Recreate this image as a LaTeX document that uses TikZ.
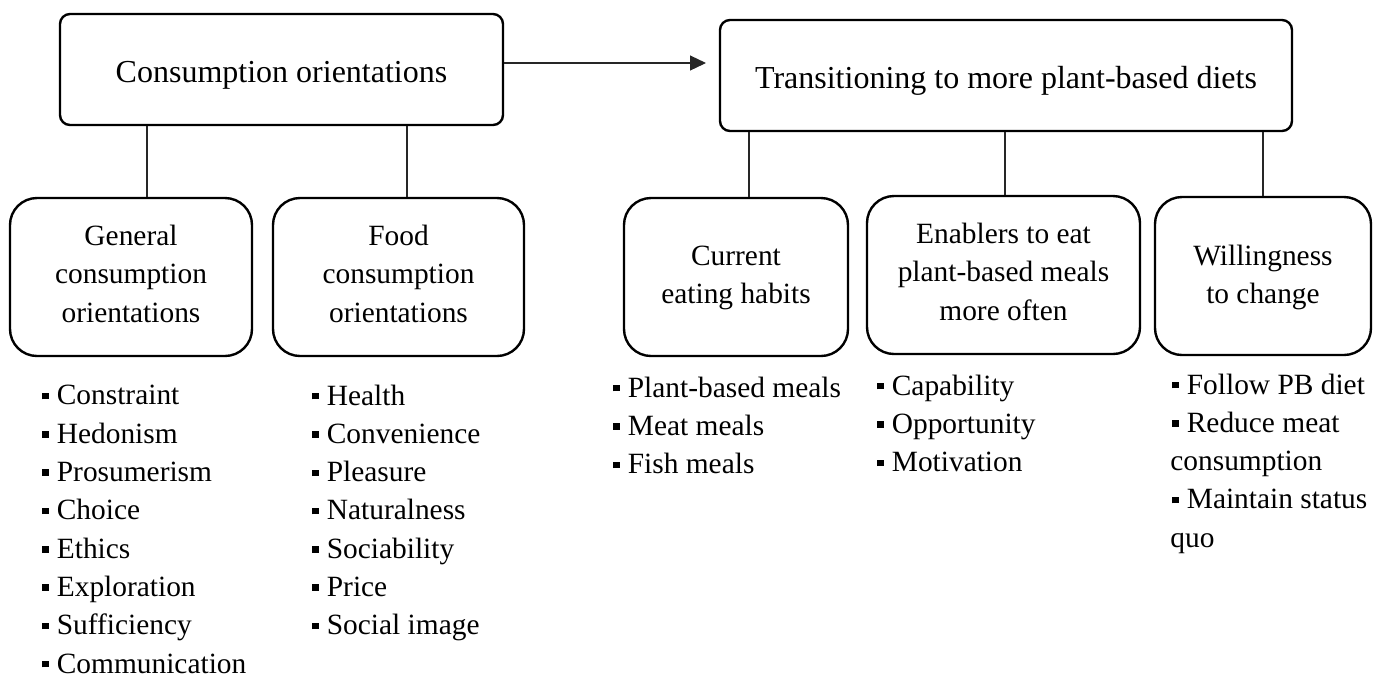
\documentclass[tikz,border=0pt]{standalone}
\usepackage{fontspec}
\setmainfont{Liberation Serif}
\usetikzlibrary{arrows.meta}
\newcommand\bul{\makebox[0.56em][l]{\hspace{0.07em}\rule[0.19em]{0.22em}{0.22em}}}
\tikzset{
  topbox/.style={draw, line width=1.2pt, rounded corners=5pt, inner sep=0pt},
  subbox/.style={draw, line width=1.2pt, rounded corners=13.5pt, inner sep=0pt, minimum height=79pt},
  toptext/.style={font=\fontsize{16}{19}\selectfont, anchor=base, inner sep=0pt},
  subtext/.style={font=\fontsize{14.7}{19.3}\selectfont, align=center, anchor=base, inner sep=0pt},
  listtext/.style={font=\fontsize{14.7}{19.15}\selectfont, align=left, anchor=base west, inner sep=0pt},
  link/.style={line width=0.6pt, draw=black!85},
}
\begin{document}
\begin{tikzpicture}[x=0.5pt,y=-0.5pt]
\useasboundingbox (0,0) rectangle (1383,677);
% top boxes
\node[topbox, minimum width=221.5pt, minimum height=55.5pt] (b1) at (281.5,69.5) {};
\node[toptext] (t1) at (281.5,82) {Consumption orientations};
\node[topbox, minimum width=286pt, minimum height=55.5pt] (b2) at (1006,75.5) {};
\node[toptext] (t2) at (1006,88) {Transitioning to more plant-based diets};
% sub boxes
\node[subbox, minimum width=121pt] (bA) at (131,277) {};
\node[subbox, minimum width=125.5pt] (bB) at (398.5,277) {};
\node[subbox, minimum width=112pt] (bC) at (736,277) {};
\node[subbox, minimum width=136.5pt] (bD) at (1003.5,275) {};
\node[subbox, minimum width=108pt] (bE) at (1263,276) {};
% (anchor base = baseline of the last line)
\node[subtext] (tA) at (131,322.2) {General\\consumption\\orientations};
\node[subtext] (tB) at (398.5,322.2) {Food\\consumption\\orientations};
\node[subtext] (tC) at (736,303.6) {Current\\eating habits};
\node[subtext] (tD) at (1003.5,320.2) {Enablers to eat\\plant-based meals\\more often};
\node[subtext] (tE) at (1263,303.6) {Willingness\\to change};
% lists
\node[listtext] (lA) at (40,673) {\bul Constraint\\\bul Hedonism\\\bul Prosumerism\\\bul Choice\\\bul Ethics\\\bul Exploration\\\bul Sufficiency\\\bul Communication};
\node[listtext] (lB) at (310,634.8) {\bul Health\\\bul Convenience\\\bul Pleasure\\\bul Naturalness\\\bul Sociability\\\bul Price\\\bul Social image};
\node[listtext] (lC) at (611,473.6) {\bul Plant-based meals\\\bul Meat meals\\\bul Fish meals};
\node[listtext] (lD) at (875,471.6) {\bul Capability\\\bul Opportunity\\\bul Motivation};
\node[listtext] (lE) at (1170,547.2) {\bul Follow PB diet\\\bul Reduce meat\\consumption\\\bul Maintain status\\quo};
% connectors
\coordinate (k1) at (147,0);
\coordinate (k2) at (407,0);
\coordinate (k3) at (749,0);
\coordinate (k4) at (1005,0);
\coordinate (k5) at (1263,0);
\draw[link] (b1.south -| k1) -- (bA.north -| k1);
\draw[link] (b1.south -| k2) -- (bB.north -| k2);
\draw[link] (b2.south -| k3) -- (bC.north -| k3);
\draw[link] (b2.south -| k4) -- (bD.north -| k4);
\draw[link] (b2.south -| k5) -- (bE.north -| k5);
\coordinate (atip) at (706,63);
\draw[link, -{Triangle[length=8pt,width=7.5pt]}] (b1.east |- atip) -- (atip);
\end{tikzpicture}
\end{document}
